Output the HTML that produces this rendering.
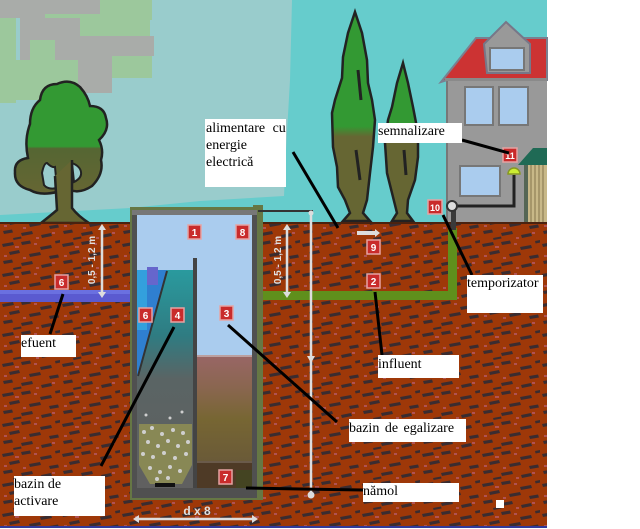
<!DOCTYPE html>
<html>
<head>
<meta charset="utf-8">
<style>
html,body{margin:0;padding:0;background:#fff;}
body{width:640px;height:529px;overflow:hidden;}
svg{display:block;}
.lb rect{fill:#c92b2b;stroke:#e6a3a3;stroke-width:1.5;}
.lb text{fill:#fff;font-family:"Liberation Sans",sans-serif;font-size:10px;font-weight:bold;text-anchor:middle;}
.tx{font-family:"Liberation Serif",serif;font-size:14px;fill:#000;}
.dim{font-family:"Liberation Sans",sans-serif;font-size:10px;font-weight:bold;fill:#e0e0e0;text-anchor:middle;}
.cn{stroke:#000;stroke-width:3;fill:none;}
</style>
</head>
<body>
<svg width="640" height="529" viewBox="0 0 640 529" xmlns="http://www.w3.org/2000/svg">
<defs>
<pattern id="soil" width="60" height="30" patternUnits="userSpaceOnUse">
<rect width="60" height="30" fill="#9e3808"/>
<g fill="#3a2c30">
<path d="M2,4 l11,-2 l1,3 l-11,2z"/>
<path d="M21,2 l9,-1.5 l1,3 l-9,1.5z"/>
<path d="M40,7 l11,-2 l1,3 l-11,2z"/>
<path d="M9,12 l10,-2 l1,3 l-10,2z"/>
<path d="M29,14 l11,-2 l1,3 l-11,2z"/>
<path d="M49,16 l9,-1.5 l1,3 l-9,1.5z"/>
<path d="M3,21 l9,-1.5 l1,3 l-9,1.5z"/>
<path d="M21,23 l11,-2 l1,3 l-11,2z"/>
<path d="M41,25 l10,-2 l1,3 l-10,2z"/>
<path d="M13,28 l8,-1.5 l0.6,2 l-8,1.5z"/>
<path d="M55,1 l5,-1 l0.6,2.5 l-5,1z"/>
</g>
<g fill="#b05252">
<rect x="15" y="6" width="4" height="2"/>
<rect x="34" y="3" width="3" height="2"/>
<rect x="23" y="17" width="3" height="2"/>
<rect x="52" y="22" width="3" height="2"/>
<rect x="4" y="15" width="3" height="2"/>
<rect x="36" y="27" width="3" height="2"/>
</g>
</pattern>
<linearGradient id="treeL" x1="0" y1="82" x2="0" y2="193" gradientUnits="userSpaceOnUse">
<stop offset="0" stop-color="#339933"/><stop offset="0.58" stop-color="#339933"/>
<stop offset="0.6" stop-color="#556633"/><stop offset="1" stop-color="#666633"/>
</linearGradient>
<linearGradient id="cypA" x1="0" y1="12" x2="0" y2="220" gradientUnits="userSpaceOnUse">
<stop offset="0" stop-color="#339933"/><stop offset="0.55" stop-color="#339933"/>
<stop offset="0.6" stop-color="#666633"/><stop offset="1" stop-color="#666633"/>
</linearGradient>
<linearGradient id="cypB" x1="0" y1="63" x2="0" y2="220" gradientUnits="userSpaceOnUse">
<stop offset="0" stop-color="#339933"/><stop offset="0.4" stop-color="#339933"/>
<stop offset="0.47" stop-color="#666633"/><stop offset="1" stop-color="#666633"/>
</linearGradient>
<linearGradient id="leftC" x1="0" y1="270" x2="0" y2="488" gradientUnits="userSpaceOnUse">
<stop offset="0" stop-color="#2a9a9e"/><stop offset="0.3" stop-color="#2f7c82"/>
<stop offset="0.5" stop-color="#5a6464"/><stop offset="1" stop-color="#606060"/>
</linearGradient>
<linearGradient id="rightC" x1="0" y1="355" x2="0" y2="462" gradientUnits="userSpaceOnUse">
<stop offset="0" stop-color="#996666"/><stop offset="0.3" stop-color="#8a6650"/>
<stop offset="0.6" stop-color="#776633"/><stop offset="1" stop-color="#6a5a38"/>
</linearGradient>
</defs>

<!-- sky -->
<rect x="0" y="0" width="547" height="226" fill="#66cccc"/>
<polygon points="0,0 292,0 290,80 286,150 284,196 200,201 130,208 0,215" fill="#99cccc"/>
<!-- clouds -->
<g>
<rect x="0" y="0" width="110" height="18" fill="#a9aca9"/>
<rect x="100" y="0" width="52" height="20" fill="#9cc89c"/>
<rect x="45" y="14" width="105" height="22" fill="#9cc89c"/>
<rect x="20" y="18" width="60" height="45" fill="#a9aca9"/>
<rect x="0" y="18" width="16" height="85" fill="#9cc89c"/>
<rect x="70" y="36" width="84" height="20" fill="#a9aca9"/>
<rect x="16" y="60" width="62" height="40" fill="#9cc89c"/>
<rect x="78" y="55" width="34" height="38" fill="#a9aca9"/>
<rect x="112" y="56" width="40" height="22" fill="#9cc89c"/>
<rect x="30" y="40" width="25" height="20" fill="#9cc89c"/>
</g>

<!-- left tree -->
<path d="M40,100 Q42,84 57,84 Q70,78 80,87 Q88,96 90,106 Q104,106 106,118 Q110,130 99,140 Q104,150 101,160 Q104,174 92,186 Q80,194 70,190 L57,192 Q40,196 30,190 Q14,186 15,172 Q14,160 28,158 Q24,140 30,124 Q30,108 40,100 Z" fill="url(#treeL)" stroke="#222" stroke-width="2.5"/>
<path d="M42,173 Q44,163 47,163 Q52,168 55,167 L57,188 Q48,190 44,185 Z" fill="#99cccc" stroke="#222" stroke-width="2"/>
<path d="M72,163 Q80,166 81,172 Q82,178 74,182 Z" fill="#99cccc" stroke="#222" stroke-width="2"/>
<path d="M55,176 L57,210 Q50,216 41,223 L89,223 Q78,216 72,208 L72,160" fill="#666633" stroke="#222" stroke-width="2.5"/>

<!-- cypress A -->
<path d="M355,12 L362,33 L367,60 L368,83 L372,100 L375,120 L373,147 L370,173 L367,200 L363,213 L370,221 L343,221 L350,213 L345,200 L338,187 L337,167 L333,147 L332,113 L335,100 L342,78 L343,57 L348,33 Z" fill="url(#cypA)" stroke="#222" stroke-width="2.5"/>
<path d="M358,70 l3,30 M356,150 l4,30" stroke="#222" stroke-width="3"/>
<!-- cypress B -->
<path d="M403,63 L408,83 L413,107 L418,133 L418,157 L415,180 L408,200 L407,213 L413,221 L392,221 L397,213 L392,193 L387,173 L385,143 L388,120 L392,107 L397,83 Z" fill="url(#cypB)" stroke="#222" stroke-width="2.5"/>
<path d="M404,150 l2,25" stroke="#222" stroke-width="3"/>

<!-- house -->
<rect x="447" y="78" width="100" height="146" fill="#999999"/>
<line x1="447" y1="80" x2="447" y2="222" stroke="#777" stroke-width="2"/>
<polygon points="441,82 476,38 547,38 547,80 447,80" fill="#cc3333" stroke="#7a8090" stroke-width="2"/>
<rect x="445" y="78" width="102" height="3" fill="#8a8a8a"/>
<polygon points="484,44 506,22 530,44 530,73 487,73" fill="#999999" stroke="#778" stroke-width="2"/>
<rect x="490" y="48" width="34" height="22" fill="#aaccee" stroke="#777" stroke-width="2"/>
<rect x="465" y="87" width="28" height="38" fill="#aaccee" stroke="#777" stroke-width="2"/>
<rect x="499" y="87" width="29" height="38" fill="#aaccee" stroke="#777" stroke-width="2"/>
<rect x="460" y="166" width="40" height="30" fill="#aaccee" stroke="#777" stroke-width="2"/>
<rect x="527" y="163" width="20" height="59" fill="#c8b888"/>
<g stroke="#9a8a60" stroke-width="1.5">
<line x1="531" y1="165" x2="531" y2="222"/><line x1="535" y1="165" x2="535" y2="222"/>
<line x1="539" y1="165" x2="539" y2="222"/><line x1="543" y1="165" x2="543" y2="222"/>
</g>
<rect x="524" y="160" width="4" height="62" fill="#556655"/>
<polygon points="518,165 533,148 547,148 547,165" fill="#1f6a55"/>

<!-- soil -->
<rect x="0" y="222" width="547" height="304" fill="url(#soil)"/>
<line x1="0" y1="223" x2="547" y2="223" stroke="#4a2210" stroke-width="2"/>
<rect x="0" y="526" width="547" height="2" fill="#333a99"/>

<!-- effluent pipe -->
<rect x="0" y="290" width="134" height="12" fill="#5a5ad0"/>
<rect x="0" y="290" width="134" height="4" fill="#6a70e0"/>

<!-- influent green pipe -->
<rect x="262" y="291" width="195" height="9" fill="#5f8f1c"/>
<rect x="448" y="228" width="9" height="72" fill="#5f8f1c"/>
<rect x="451" y="210" width="5" height="20" fill="#3a3a3a"/>

<!-- cable & devices -->
<polyline points="455,206 514,206 514,175" fill="none" stroke="#222" stroke-width="3"/>
<path d="M508,174 a6,6 0 0 1 12,0 z" fill="#ccee33" stroke="#889922" stroke-width="1.5"/>
<circle cx="452" cy="206" r="5" fill="#dddddd" stroke="#333" stroke-width="2"/>

<!-- tank -->
<rect x="130" y="207" width="133" height="293" fill="#667744"/>
<rect x="132" y="210" width="125" height="288" fill="#505050"/>
<rect x="137" y="215" width="115" height="273" fill="#aaccee"/>
<rect x="253" y="205" width="10" height="10" fill="#667744"/>
<!-- left compartment -->
<rect x="137" y="270" width="56" height="218" fill="url(#leftC)"/>
<polygon points="137,270 167,270 138,376 137,376" fill="#2f7fd0"/>
<rect x="137" y="270" width="10" height="60" fill="#33a0dd"/>
<rect x="147" y="267" width="11" height="18" fill="#6666cc"/>
<line x1="167" y1="271" x2="138" y2="376" stroke="#333" stroke-width="2"/>
<polygon points="139,424 192,424 192,465 182,484 150,484 139,465" fill="#888855"/>
<g fill="#cfcfcf">
<circle cx="144" cy="432" r="2"/><circle cx="152" cy="428" r="2"/><circle cx="162" cy="434" r="2"/><circle cx="173" cy="430" r="2"/><circle cx="183" cy="433" r="2"/>
<circle cx="148" cy="442" r="2"/><circle cx="158" cy="446" r="2"/><circle cx="168" cy="441" r="2"/><circle cx="178" cy="446" r="2"/><circle cx="188" cy="442" r="2"/>
<circle cx="143" cy="454" r="2"/><circle cx="153" cy="457" r="2"/><circle cx="164" cy="453" r="2"/><circle cx="175" cy="458" r="2"/><circle cx="186" cy="454" r="2"/>
<circle cx="150" cy="468" r="2"/><circle cx="160" cy="472" r="2"/><circle cx="170" cy="467" r="2"/><circle cx="180" cy="471" r="2"/>
<circle cx="157" cy="479" r="2"/><circle cx="168" cy="478" r="2"/>
<circle cx="146" cy="415" r="1.5"/><circle cx="170" cy="418" r="1.5"/><circle cx="182" cy="412" r="1.5"/>
</g>
<rect x="155" y="483" width="20" height="4" fill="#111"/>
<!-- partition -->
<rect x="193" y="258" width="4" height="230" fill="#444"/>
<!-- right compartment -->
<rect x="197" y="355" width="55" height="107" fill="url(#rightC)"/>
<rect x="197" y="355" width="55" height="2" fill="#bba0a0"/>
<rect x="197" y="462" width="55" height="26" fill="#4e3a26"/>
<rect x="197" y="461" width="55" height="2" fill="#6a5a4a"/>
<rect x="236" y="470" width="16" height="18" fill="#444422"/>
<rect x="252" y="215" width="5" height="273" fill="#505050"/>
<rect x="132" y="210" width="125" height="5" fill="#777"/>
<line x1="258" y1="211" x2="313" y2="211" stroke="#333" stroke-width="2"/>

<!-- dimensions -->
<g stroke="#dddddd" stroke-width="2.5" fill="#dddddd">
<line x1="102" y1="228" x2="102" y2="294"/>
<line x1="287" y1="228" x2="287" y2="294"/>
<line x1="311" y1="213" x2="311" y2="493"/>
<line x1="137" y1="519" x2="254" y2="519"/>
</g>
<g fill="#dddddd">
<polygon points="102,224 98,230 106,230"/><polygon points="102,298 98,292 106,292"/>
<polygon points="287,224 283,230 291,230"/><polygon points="287,298 283,292 291,292"/>
<polygon points="133,519 139,515 139,523"/><polygon points="258,519 252,515 252,523"/>
<polygon points="307,356 315,356 311,363"/>
<circle cx="311" cy="495" r="3.5"/>
<circle cx="311" cy="213" r="2.5"/>
</g>
<text class="dim" transform="translate(95,260) rotate(-90)">0,5 - 1,2 m</text>
<text class="dim" transform="translate(281,260) rotate(-90)">0,5 - 1,2 m</text>
<text class="dim" x="197" y="515" style="font-size:12px">d x 8</text>
<polygon points="357,231 375,231 375,229 380,233 375,237 375,235 357,235" fill="#dddddd"/>

<!-- number labels -->
<g class="lb"><rect x="188" y="225" width="13" height="14"/><text x="194.5" y="236">1</text></g>
<g class="lb"><rect x="236" y="225" width="13" height="14"/><text x="242.5" y="236">8</text></g>
<g class="lb"><rect x="139" y="308" width="13" height="14"/><text x="145.5" y="319">6</text></g>
<g class="lb"><rect x="171" y="308" width="13" height="14"/><text x="177.5" y="319">4</text></g>
<g class="lb"><rect x="220" y="306" width="13" height="14"/><text x="226.5" y="317">3</text></g>
<g class="lb"><rect x="55" y="275" width="13" height="14"/><text x="61.5" y="286">6</text></g>
<g class="lb"><rect x="219" y="470" width="13" height="14"/><text x="225.5" y="481">7</text></g>
<g class="lb"><rect x="367" y="240" width="13" height="14"/><text x="373.5" y="251">9</text></g>
<g class="lb"><rect x="367" y="274" width="13" height="14"/><text x="373.5" y="285">2</text></g>
<g class="lb"><rect x="428" y="200" width="14" height="14"/><text x="435" y="211" style="font-size:9px">10</text></g>
<g class="lb"><rect x="503" y="148" width="14" height="14"/><text x="510" y="159" style="font-size:9px">11</text></g>

<!-- connectors -->
<line class="cn" x1="293" y1="152" x2="338" y2="228"/>
<line class="cn" x1="462" y1="140" x2="509" y2="153"/>
<line class="cn" x1="443" y1="215" x2="472" y2="275"/>
<line class="cn" x1="375" y1="292" x2="382" y2="355"/>
<line class="cn" x1="228" y1="325" x2="337" y2="422"/>
<polyline class="cn" points="246,488 300,489 363,490"/>
<line class="cn" x1="63" y1="294" x2="50" y2="334"/>
<line class="cn" x1="174" y1="327" x2="101" y2="466"/>

<!-- text boxes -->
<rect x="205" y="119" width="81" height="68" fill="#fff"/>
<text class="tx" x="206" y="132" style="word-spacing:4px">alimentare cu</text>
<text class="tx" x="206" y="149">energie</text>
<text class="tx" x="206" y="166">electrică</text>

<rect x="378" y="123" width="84" height="20" fill="#fff"/>
<text class="tx" x="378" y="135">semnalizare</text>

<rect x="467" y="275" width="76" height="38" fill="#fff"/>
<text class="tx" x="467" y="287">temporizator</text>

<rect x="378" y="355" width="81" height="23" fill="#fff"/>
<text class="tx" x="378" y="368">influent</text>

<rect x="349" y="419" width="117" height="23" fill="#fff"/>
<text class="tx" x="349" y="432" style="word-spacing:2px">bazin de egalizare</text>

<rect x="363" y="483" width="96" height="19" fill="#fff"/>
<text class="tx" x="363" y="495">nămol</text>

<rect x="21" y="335" width="55" height="22" fill="#fff"/>
<text class="tx" x="21" y="347">efuent</text>

<rect x="14" y="476" width="91" height="40" fill="#fff"/>
<text class="tx" x="14" y="488">bazin de</text>
<text class="tx" x="14" y="505">activare</text>

<rect x="496" y="500" width="8" height="8" fill="#fff"/>
</svg>
</body>
</html>
